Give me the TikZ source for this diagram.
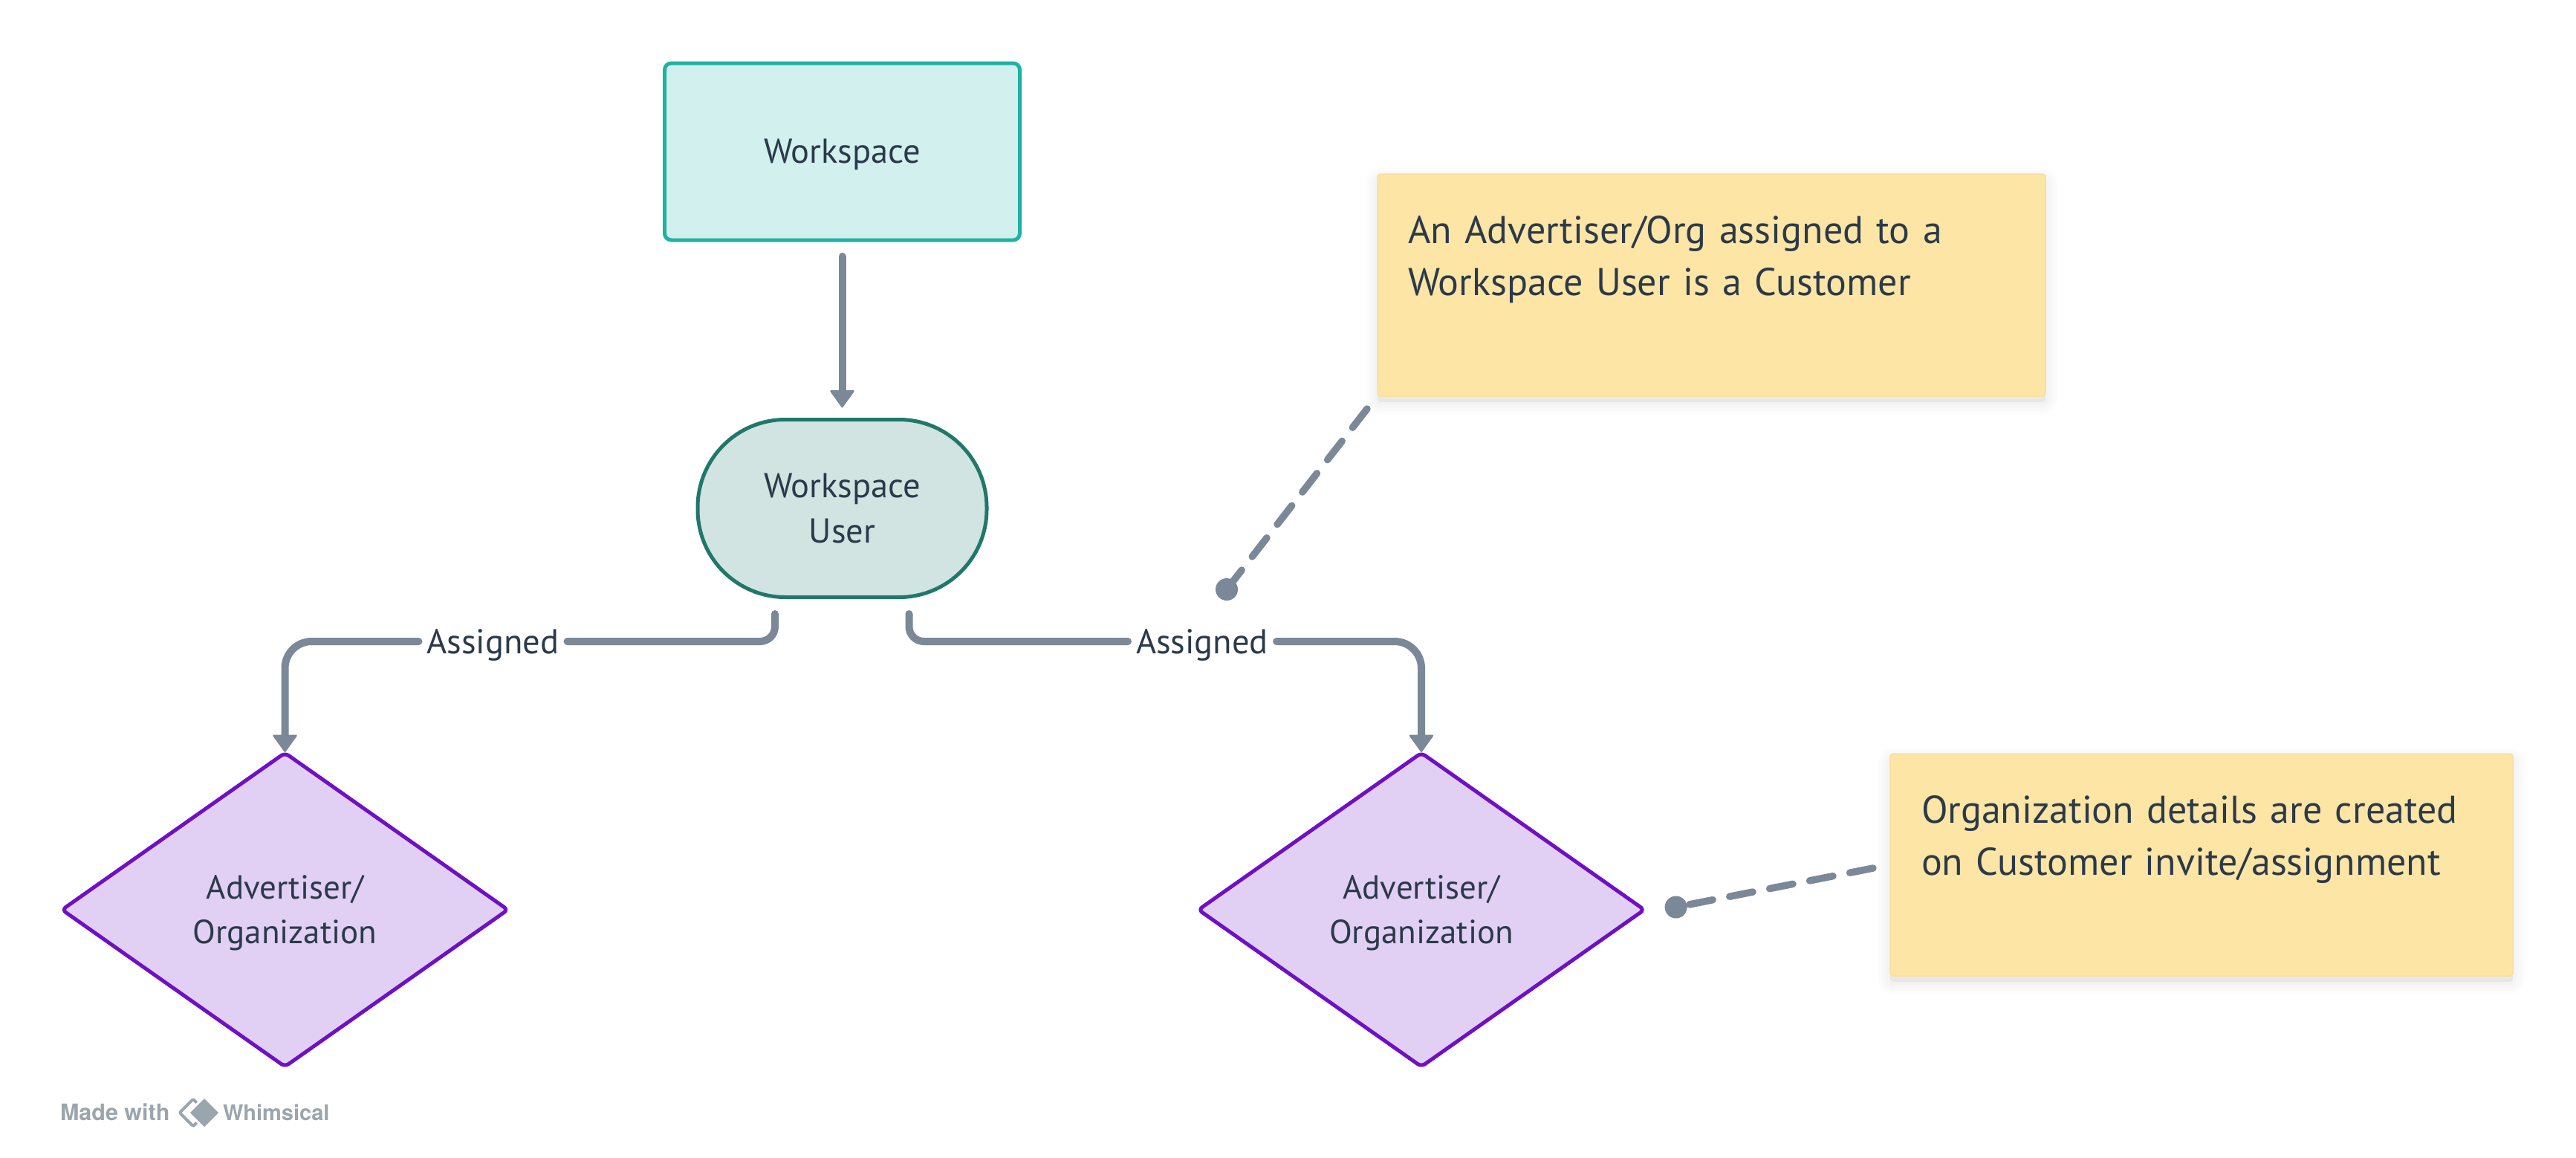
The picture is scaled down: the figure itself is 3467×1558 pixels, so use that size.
\documentclass[tikz,border=0pt]{standalone}
\usepackage{fontspec}
\setmainfont{PT Sans}
\newfontfamily\logofont{TeX Gyre Heros}
\usetikzlibrary{arrows.meta,shapes.geometric}
\definecolor{inkc}{HTML}{2B3A4A}
\definecolor{greyc}{HTML}{7A8897}
\definecolor{tealc}{HTML}{1EB2A3}
\definecolor{tealf}{HTML}{D1F0EE}
\definecolor{greenc}{HTML}{20786A}
\definecolor{greenf}{HTML}{D2E4E1}
\definecolor{purpc}{HTML}{6F10C4}
\definecolor{purpf}{HTML}{E2D0F4}
\definecolor{notef}{HTML}{FCE5A5}
\definecolor{noted}{HTML}{F8DF9E}
\definecolor{logoc}{HTML}{9AA5AD}
\tikzset{
  x=1pt,y=-1pt,
  base/.style={inner sep=0pt,outer sep=0pt,text=inkc,align=center},
  smalltxt/.style={font=\fontsize{46.5}{61}\selectfont},
  rectbox/.style={base,smalltxt,draw=tealc,fill=tealf,line width=5pt,rounded corners=9pt,
    minimum width=478pt,minimum height=238pt,text height=30pt,text depth=0pt},
  pillbox/.style={base,smalltxt,draw=greenc,fill=greenf,line width=5pt,rounded corners=118pt,
    minimum width=389pt,minimum height=239pt,text height=92pt,text depth=0pt},
  diabox/.style={base,font=\fontsize{45}{60}\selectfont,diamond,draw=purpc,fill=purpf,line width=5pt,rounded corners=6pt,
    minimum width=600pt,minimum height=422pt,text height=90pt,text depth=0pt},
  shadowstep/.style={preaction={draw=black,fill=black,draw opacity=.012,fill opacity=.012,
    line width=#1,line join=round,transform canvas={yshift=-8pt}}},
  notebox/.style={base,align=left,fill=notef,draw=noted,line width=1.5pt,rounded corners=4pt,
    font=\fontsize{52}{70}\selectfont,text height=0pt,
    shadowstep=32pt,shadowstep=24pt,shadowstep=16pt,shadowstep=8pt},
  edgelabel/.style={base,smalltxt,minimum width=200pt,text height=32pt,text depth=0pt},
  conn/.style={draw=greyc,line width=10pt,line cap=round},
  arrowtip/.style={-{Triangle[length=24pt,width=34pt,line width=2pt,round]}},
  dashconn/.style={draw=greyc,line width=9.5pt,line cap=round,dash pattern=on 32pt off 23pt},
  dotnode/.style={circle,fill=greyc,minimum size=30pt,inner sep=0pt,outer sep=0pt},
  logotxt/.style={inner sep=0pt,outer sep=0pt,anchor=base west,text=logoc,
    font=\logofont\bfseries\fontsize{29}{29}\selectfont},
}
\begin{document}
\begin{tikzpicture}
\useasboundingbox (0,0) rectangle (3467,1558);
\node[rectbox] (ws) at (1133.5,204) {Workspace};
\node[pillbox] (wu) at (1133.5,684) {Workspace\\User};
\node[diabox] (d1) at (383.5,1224) {Advertiser/\\Organization};
\node[diabox] (d2) at (1913,1224) {Advertiser/\\Organization};
\node[notebox,text width=817pt,inner xsep=41pt,minimum height=299pt,text depth=112pt] (n1) at (2303.5,383.5)
  {An Advertiser/Org assigned to a\\Workspace User is a Customer};
\node[notebox,text width=754pt,inner xsep=42pt,minimum height=299pt,text depth=112pt] (n2) at (2963,1163.5)
  {Organization details are created\\on Customer invite/assignment};
\node[edgelabel] (l1) at (663.5,863) {Assigned};
\node[edgelabel] (l2) at (1618,863) {Assigned};
\coordinate (ca) at (1043,826);
\coordinate (cb) at (1223.5,826);
\coordinate (c1) at (1840,550);
\coordinate (c2) at (2521,1168);
\node[dotnode] (p1) at (1651,793) {};
\node[dotnode] (p2) at (2255.6,1220.5) {};
\draw[conn,arrowtip,shorten <=22pt,shorten >=16pt] (ws.south) -- (wu.north);
\draw[conn,rounded corners=20pt] (ca) -- (ca |- l1.east) -- (l1.east);
\draw[conn,arrowtip,rounded corners=36pt,shorten >=1pt] (l1.west) -- (d1.north |- l1.west) -- (d1.north);
\draw[conn,rounded corners=20pt] (cb) -- (cb |- l2.west) -- (l2.west);
\draw[conn,arrowtip,rounded corners=36pt,shorten >=1pt] (l2.east) -- (d2.north |- l2.east) -- (d2.north);
\draw[dashconn] (c1) -- (p1.center);
\draw[dashconn] (c2) -- (p2.center);
% logo
\node[logotxt,font=\logofont\bfseries\fontsize{30.5}{30}\selectfont] (mw) at (81,1507) {Made with};
\node[logotxt] (wh) at (300,1507) {Whimsical};
\node[diamond,draw=logoc,line width=4pt,minimum width=38pt,minimum height=38pt,inner sep=0pt,rounded corners=2pt] (lg1) at (260,1497) {};
\node[diamond,fill=logoc,draw=white,line width=3pt,minimum width=44pt,minimum height=44pt,inner sep=0pt,rounded corners=2pt] (lg2) at (275,1497) {};
\end{tikzpicture}
\end{document}
